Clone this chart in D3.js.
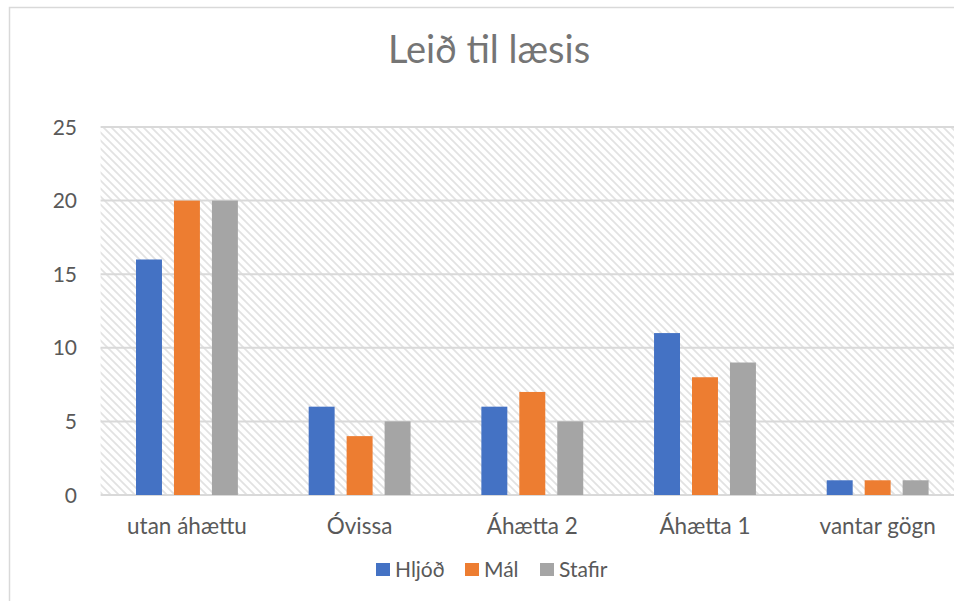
<!DOCTYPE html>
<html>
<head>
<meta charset="utf-8">
<script src="https://cdn.jsdelivr.net/npm/d3@7"></script>
<style>
  body { margin: 0; background: #fff; }
  svg { display: block; font-family: "Lato", "Open Sans", sans-serif; }
</style>
</head>
<body>
<svg id="chart"></svg>
<script>
// data
const categories = ["utan áhættu", "Óvissa", "Áhætta 2", "Áhætta 1", "vantar gögn"];
const seriesNames = ["Hljóð", "Mál", "Stafir"];
const hljod = [16, 6, 6, 11, 1];
const mal = [20, 4, 7, 8, 1];
const stafir = [20, 5, 5, 9, 1];
const yTicks = [0, 5, 10, 15, 20, 25];
const colors = ["#4472C4", "#ED7D31", "#A5A5A5"];

const width = 954, height = 601;
const values = [hljod, mal, stafir];

const svg = d3.select("#chart")
  .attr("width", width)
  .attr("height", height);

// hatch pattern for plot area
const defs = svg.append("defs");
const pat = defs.append("pattern")
  .attr("id", "hatch")
  .attr("patternUnits", "userSpaceOnUse")
  .attr("width", 8).attr("height", 8);
pat.append("rect").attr("width", 8).attr("height", 8).attr("fill", "#fff");
pat.append("path")
  .attr("d", "M-2,-2 L10,10 M-2,6 L2,10 M6,-2 L10,2")
  .attr("stroke", "#e2e2e2")
  .attr("stroke-width", 1.7);

// chart border (chart extends past the right/bottom edge)
svg.append("rect")
  .attr("x", 9.5).attr("y", 7.5)
  .attr("width", 1000).attr("height", 700)
  .attr("fill", "none")
  .attr("stroke", "#d9d9d9")
  .attr("stroke-width", 1.5);

const x0 = d3.scaleBand()
  .domain(categories)
  .range([100.6, 964])
  .paddingInner(0.41)
  .paddingOuter(0.205);

const x1 = d3.scaleBand()
  .domain(seriesNames)
  .range([0, x0.bandwidth()])
  .paddingInner(0.316)
  .paddingOuter(0);

const y = d3.scaleLinear()
  .domain([0, 25])
  .range([495, 127]);

// plot area background
svg.append("rect")
  .attr("x", 100.6).attr("y", y(25))
  .attr("width", 964 - 100.6).attr("height", y(0) - y(25))
  .attr("fill", "url(#hatch)");

// gridlines
svg.append("g")
  .selectAll("line")
  .data(yTicks)
  .join("line")
  .attr("x1", 100.6).attr("x2", 964)
  .attr("y1", d => y(d)).attr("y2", d => y(d))
  .attr("stroke", "#d9d9d9")
  .attr("stroke-width", 2);

// y tick labels
svg.append("g")
  .selectAll("text")
  .data(yTicks)
  .join("text")
  .attr("x", 77)
  .attr("y", d => y(d))
  .attr("dy", "0.36em")
  .attr("text-anchor", "end")
  .attr("font-size", 21)
  .attr("fill", "#595959")
  .text(d => d);

// bars
const groups = svg.append("g")
  .selectAll("g")
  .data(categories)
  .join("g")
  .attr("transform", d => `translate(${x0(d)},0)`);

groups.selectAll("rect")
  .data((c, i) => seriesNames.map((s, j) => ({ s, j, v: values[j][i] })))
  .join("rect")
  .attr("x", d => x1(d.s))
  .attr("width", x1.bandwidth())
  .attr("y", d => y(d.v))
  .attr("height", d => y(0) - y(d.v))
  .attr("fill", d => colors[d.j]);

// category labels
svg.append("g")
  .selectAll("text")
  .data(categories)
  .join("text")
  .attr("x", d => x0(d) + x0.bandwidth() / 2)
  .attr("y", 534)
  .attr("text-anchor", "middle")
  .attr("font-size", 22.5)
  .attr("fill", "#595959")
  .text(d => d);

// title
svg.append("text")
  .attr("x", 489)
  .attr("y", 63)
  .attr("text-anchor", "middle")
  .attr("font-size", 38)
  .attr("fill", "#757575")
  .text("Leið til læsis");

// legend
const legendX = [376, 465, 540];
const legend = svg.append("g")
  .selectAll("g")
  .data(seriesNames)
  .join("g")
  .attr("transform", (d, i) => `translate(${legendX[i]},563)`);
legend.append("rect")
  .attr("width", 14).attr("height", 13)
  .attr("fill", (d, i) => colors[i]);
legend.append("text")
  .attr("x", 19)
  .attr("y", 14)
  .attr("font-size", 21)
  .attr("fill", "#595959")
  .text(d => d);
</script>
</body>
</html>
